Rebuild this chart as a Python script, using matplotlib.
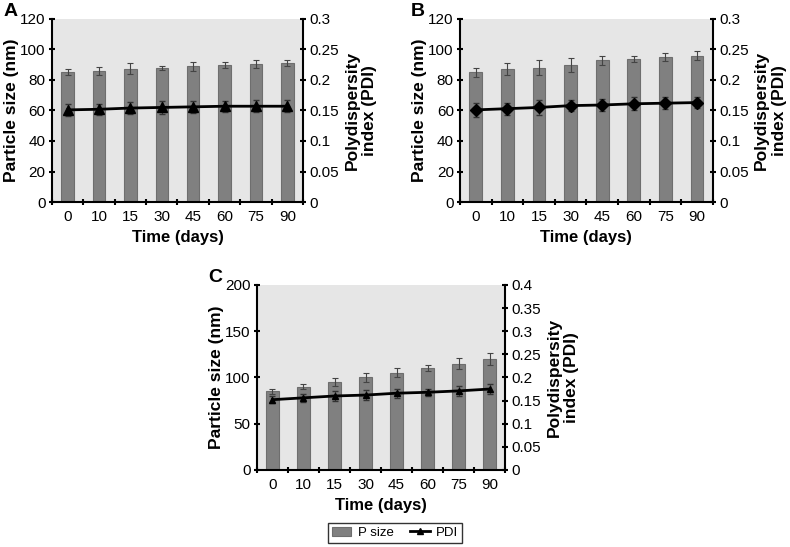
import matplotlib.pyplot as plt
from matplotlib.lines import Line2D
import numpy as np

days = ['0', '10', '15', '30', '45', '60', '75', '90']

# panel A
size_a = [85, 86, 87.5, 88, 89, 90, 90.5, 91]
size_a_err = [2, 2.5, 3.5, 1.5, 3, 2, 2.5, 2]
pdi_a = [0.151, 0.152, 0.154, 0.155, 0.156, 0.157, 0.157, 0.157]
pdi_a_err = [0.01, 0.009, 0.01, 0.01, 0.01, 0.009, 0.01, 0.01]

# panel B
size_b = [85, 87, 88, 90, 93, 94, 95, 96]
size_b_err = [3, 4, 5, 4.5, 3, 2, 2.5, 3]
pdi_b = [0.151, 0.153, 0.155, 0.158, 0.159, 0.161, 0.162, 0.163]
pdi_b_err = [0.011, 0.01, 0.012, 0.009, 0.01, 0.011, 0.01, 0.009]

# panel C
size_c = [85, 90, 95, 100, 105, 110, 115, 120]
size_c_err = [3, 2.5, 4, 4.5, 5, 3.5, 6, 7]
pdi_c = [0.152, 0.156, 0.160, 0.162, 0.166, 0.168, 0.171, 0.175]
pdi_c_err = [0.008, 0.008, 0.01, 0.01, 0.01, 0.008, 0.01, 0.01]

BAR = '#808080'
BG = '#e6e6e6'


def panel(rect, letter, sizes, size_err, pdi, pdi_err, ymax, ystep, pmax, pstep, marker, msize):
    ax = fig.add_axes(rect)
    x = np.arange(len(days))
    ax.set_facecolor(BG)
    ax.bar(x, sizes, 0.4, color=BAR, edgecolor='#6e6e6e', linewidth=0.8,
           yerr=size_err, error_kw=dict(ecolor='#444444', elinewidth=0.8, capsize=2.5, capthick=0.8),
           label='P size', zorder=2)
    ax.set_xlim(-0.5, len(days) - 0.5)
    ax.set_ylim(0, ymax)
    ax.set_yticks(np.arange(0, ymax + 0.1, ystep))
    ax.set_xticks(x)
    ax.set_xticklabels(days)
    ax.set_xticks(np.arange(-0.5, len(days), 1), minor=True)
    ax.tick_params(axis='x', which='major', length=0, labelsize=11, pad=6)
    ax.tick_params(axis='x', which='minor', length=5, width=1.5, direction='inout')
    ax.tick_params(axis='y', length=5, width=1.5, direction='inout', labelsize=11, pad=2)
    for s in ['top', 'right']:
        ax.spines[s].set_visible(False)
    ax.spines['left'].set_linewidth(1.5)
    ax.spines['bottom'].set_linewidth(1.5)
    ax.set_xlabel('Time (days)', fontsize=12, fontweight='bold', labelpad=4)
    ax.set_ylabel('Particle size (nm)', fontsize=12.5, fontweight='bold', labelpad=1)

    ax2 = ax.twinx()
    ax2.errorbar(x, pdi, yerr=pdi_err, color='black', linewidth=2, marker=marker,
                 markersize=msize, ecolor='#333333', elinewidth=0.8, capsize=2.5,
                 label='PDI', zorder=3)
    ax2.set_ylim(0, pmax)
    ticks = np.arange(0, pmax + 1e-9, pstep)
    ax2.set_yticks(ticks)
    ax2.set_yticklabels(['%g' % round(t, 2) for t in ticks])
    ax2.tick_params(axis='y', length=5, width=1.5, direction='inout', labelsize=11, pad=2)
    for s in ['top', 'left', 'bottom']:
        ax2.spines[s].set_visible(False)
    ax2.spines['right'].set_linewidth(1.5)
    ax2.set_ylabel('Polydispersity\nindex (PDI)', fontsize=12.5, fontweight='bold', labelpad=4)
    ax.text(-0.195, 1.04, letter, transform=ax.transAxes, fontsize=14, fontweight='bold',
            ha='left', va='center')
    return ax, ax2


fig = plt.figure(figsize=(7.9, 5.47), dpi=100)
plt.rcParams['font.family'] = ['Liberation Sans', 'DejaVu Sans']

panel([0.0658, 0.6307, 0.3177, 0.3346], 'A', size_a, size_a_err, pdi_a, pdi_a_err,
      120, 20, 0.3, 0.05, '^', 7)
panel([0.5823, 0.6307, 0.3200, 0.3346], 'B', size_b, size_b_err, pdi_b, pdi_b_err,
      120, 20, 0.3, 0.05, 'D', 6.5)
ax_c, ax_c2 = panel([0.3253, 0.1408, 0.3140, 0.3382], 'C', size_c, size_c_err, pdi_c, pdi_c_err,
                    200, 50, 0.4, 0.05, '^', 5)

h1, l1 = ax_c.get_legend_handles_labels()
pdi_handle = Line2D([], [], color='black', linewidth=2, marker='^', markersize=5)
fig.legend([h1[0], pdi_handle], ['P size', 'PDI'], loc='center', bbox_to_anchor=(0.5, 0.026),
           ncol=2, fontsize=9.5, frameon=True, fancybox=False, edgecolor='black',
           handlelength=1.5, handletextpad=0.5, columnspacing=1.2, borderpad=0.3)

fig.savefig('out.png', dpi=100)
